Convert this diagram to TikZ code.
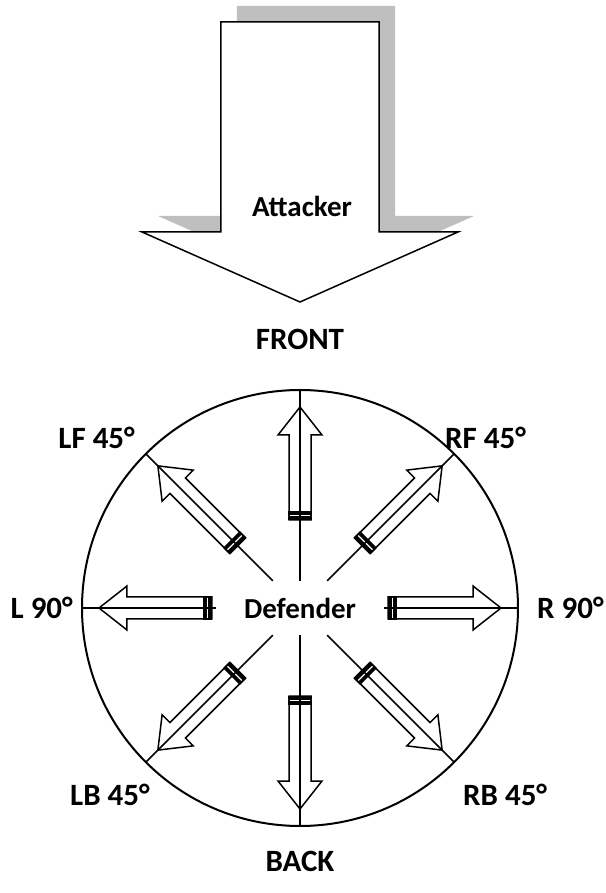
\documentclass[tikz,border=0pt]{standalone}
\usepackage{fontspec}
\setmainfont{Carlito}
\begin{document}
\begin{tikzpicture}[x=1pt, y=1pt, line join=miter,
    lbl/.style={font=\fontsize{29}{34}\selectfont\bfseries, inner sep=0pt},
    dirlbl/.style={font=\fontsize{31}{36}\selectfont\bfseries, inner sep=0pt},
    dirarrow/.style={draw, fill=white, line width=1.5pt}]
  \useasboundingbox (-300,-285) rectangle (305,608);

  % attacker with its shadow
  \fill[black!25] (-63,602) -- (95,602) -- (95,392) -- (174,392) -- (16,322) -- (-142,392) -- (-63,392) -- cycle;
  \draw[fill=white, line width=1.5pt] (-79,586) -- (79,586) -- (79,376) -- (158,376) -- (0,306) -- (-158,376) -- (-79,376) -- cycle;
  \node[lbl, anchor=base] (att) at (2,391) {Attacker};

  \node[dirlbl, anchor=base] (front) at (0,258) {FRONT};
  \node[dirlbl, anchor=base] (back) at (0,-263) {BACK};

  % defender
  \draw[line width=2pt] (0,0) circle (218pt);
  \node[lbl, minimum width=168pt, minimum height=54pt] (def) at (0,0) {Defender};

  \foreach \a in {0,45,...,315} {
    \begin{scope}[rotate=\a]
      \draw[dirarrow] (88,-11) -- (173,-11) -- (173,-22) -- (201,0) -- (173,22) -- (173,11) -- (88,11) -- cycle;
      \fill (88,-12) rectangle (97,12);
      \draw[white, line width=1.2pt] (92.5,-10) -- (92.5,10);
    \end{scope}
    \coordinate (e\a) at (\a:218pt);
    \draw[line width=1.5pt] (def) -- (e\a);
  }

  \node[dirlbl, anchor=east] (l90) at (-227,0) {L 90°};
  \node[dirlbl, anchor=west] (r90) at (237,0) {R 90°};
  \node[dirlbl, anchor=east] (lf) at (-165,170) {LF 45°};
  \node[dirlbl, anchor=west] (rf) at (145,170) {RF 45°};
  \node[dirlbl, anchor=west] (lb) at (-230,-187) {LB 45°};
  \node[dirlbl, anchor=west] (rb) at (163,-187) {RB 45°};
\end{tikzpicture}
\end{document}
